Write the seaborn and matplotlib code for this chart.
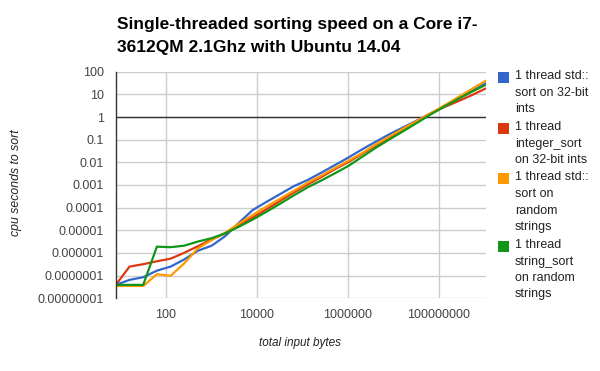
import matplotlib
matplotlib.use("Agg")
import matplotlib.pyplot as plt
import matplotlib.ticker as mticker
from matplotlib.patches import Rectangle
import seaborn as sns
import pandas as pd

# ---- data ----
sizes = [2 ** k for k in range(3, 31)]  # total input bytes: 8 .. 2^30

std_sort_ints = [3.9e-8, 6.5e-8, 8.5e-8, 1.66e-7, 2.5e-7, 5.2e-7, 1.26e-6, 2.1e-6,
                 5.6e-6, 2.2e-5, 7.9e-5, 1.8e-4, 4.0e-4, 8.9e-4, 1.66e-3, 3.5e-3,
                 7.6e-3, 0.0166, 0.038, 0.083, 0.178, 0.355, 0.71, 1.41, 3.0, 6.6,
                 14.1, 30.9]
integer_sort_ints = [3.9e-8, 2.5e-7, 3.2e-7, 4.3e-7, 5.6e-7, 1.02e-6, 2.0e-6, 4.0e-6,
                     7.4e-6, 1.78e-5, 3.7e-5, 8.5e-5, 2.0e-4, 4.7e-4, 1.05e-3, 2.24e-3,
                     5.0e-3, 0.0105, 0.024, 0.056, 0.126, 0.30, 0.68, 1.48, 2.8, 5.0,
                     9.3, 18.2]
std_sort_strings = [3.5e-8, 3.5e-8, 3.5e-8, 1.15e-7, 9.8e-8, 3.5e-7, 1.62e-6, 3.7e-6,
                    7.9e-6, 2.0e-5, 4.8e-5, 1.12e-4, 2.5e-4, 5.6e-4, 1.26e-3, 2.6e-3,
                    5.6e-3, 0.012, 0.026, 0.063, 0.141, 0.316, 0.68, 1.48, 3.3, 7.6,
                    17.4, 39.8]
string_sort_strings = [3.9e-8, 3.9e-8, 3.9e-8, 1.9e-6, 1.8e-6, 2.1e-6, 3.2e-6, 4.5e-6,
                       7.4e-6, 1.45e-5, 3.0e-5, 6.6e-5, 1.5e-4, 3.5e-4, 7.9e-4, 1.58e-3,
                       3.3e-3, 7.1e-3, 0.0178, 0.045, 0.105, 0.24, 0.56, 1.32, 2.95, 6.3,
                       13.2, 26.3]

series_names = ["1 thread std::\nsort on 32-bit\nints",
                "1 thread\ninteger_sort\non 32-bit ints",
                "1 thread std::\nsort on\nrandom\nstrings",
                "1 thread\nstring_sort\non random\nstrings"]
series_values = [std_sort_ints, integer_sort_ints, std_sort_strings, string_sort_strings]
colors = ["#3366cc", "#dc3912", "#ff9900", "#109618"]

title = "Single-threaded sorting speed on a Core i7-\n3612QM 2.1Ghz with Ubuntu 14.04"
xlabel = "total input bytes"
ylabel = "cpu seconds to sort"
yticks = [1e-8, 1e-7, 1e-6, 1e-5, 1e-4, 1e-3, 1e-2, 1e-1, 1, 10, 100]
ytick_labels = ["0.00000001", "0.0000001", "0.000001", "0.00001", "0.0001", "0.001",
                "0.01", "0.1", "1", "10", "100"]
xticks = [100, 10000, 1000000, 100000000]
xtick_labels = ["100", "10000", "1000000", "100000000"]

rows = []
for name, vals in zip(series_names, series_values):
    for s, v in zip(sizes, vals):
        rows.append({"bytes": s, "seconds": v, "series": name})
df = pd.DataFrame(rows)

# ---- plot ----
sns.set_style("white")
plt.rcParams["font.family"] = ["Liberation Sans", "DejaVu Sans"]

fig = plt.figure(figsize=(6.0, 3.71), dpi=100)
ax = fig.add_axes([0.193, 0.196, 0.6165, 0.6107])

sns.lineplot(data=df, x="bytes", y="seconds", hue="series", hue_order=series_names,
             palette=colors, linewidth=1.6, legend=False, ax=ax, zorder=3)

ax.set_xscale("log")
ax.set_yscale("log")
ax.set_xlim(sizes[0], sizes[-1])
ax.set_ylim(1e-8, 100)

ax.set_yticks(yticks)
ax.set_yticklabels(ytick_labels)
ax.set_xticks(xticks)
ax.set_xticklabels(xtick_labels)
ax.yaxis.set_minor_locator(mticker.NullLocator())
ax.xaxis.set_minor_locator(mticker.NullLocator())
ax.tick_params(axis="both", length=0, labelsize=9, labelcolor="#444444")
ax.tick_params(axis="y", pad=8.5)
ax.tick_params(axis="x", pad=7.5)

ax.grid(True, color="#cccccc", linewidth=1, zorder=0)
ax.axhline(1, color="#333333", linewidth=1, zorder=2)
for side in ["top", "right", "bottom"]:
    ax.spines[side].set_visible(False)
ax.spines["left"].set_color("#333333")
ax.spines["left"].set_linewidth(1)
ax.spines["left"].set_zorder(4)

ax.set_xlabel("")
ax.set_ylabel("")
fig.text(0.5, 1 - 343 / 371, xlabel, ha="center", va="center", fontsize=8.5,
         style="italic", color="#222222")
fig.text(16 / 600, 1 - 183 / 371, ylabel, ha="center", va="center", fontsize=8.8,
         style="italic", rotation=90, color="#222222")

fig.text(117 / 600, 1 - 17 / 371, title, ha="left", va="top", fontsize=12.5,
         fontweight="bold", color="#000000", linespacing=1.7)

# legend (manual)
legend_y = [77, 128, 178.5, 246]
for name, col, yy in zip(series_names, colors, legend_y):
    fig.patches.append(Rectangle((498 / 600, 1 - (yy + 5.5) / 371), 11 / 600, 11 / 371,
                                 transform=fig.transFigure, facecolor=col,
                                 edgecolor="none"))
    fig.text(515 / 600, 1 - (yy - 7) / 371, name, ha="left", va="top", fontsize=9,
             color="#222222", linespacing=1.5)

fig.savefig("out.png", dpi=100)
